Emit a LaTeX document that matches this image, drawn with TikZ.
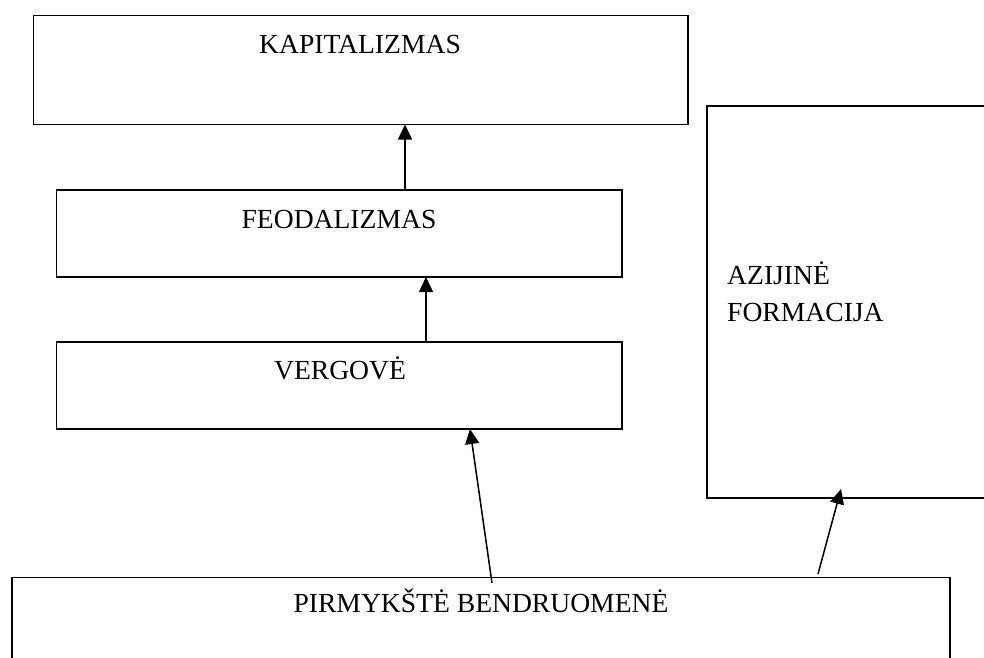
\documentclass[tikz,border=0pt]{standalone}
\usepackage{fontspec}
\setmainfont{Liberation Serif}
\usetikzlibrary{arrows.meta}
\begin{document}
\begin{tikzpicture}[x=1pt,y=-1pt,
 box/.style={draw,line width=1.5pt,inner sep=0pt,outer sep=0pt},
 lbl/.style={anchor=base,inner sep=0pt,font=\fontsize{27.6}{37}\selectfont},
 lblw/.style={anchor=base west,inner sep=0pt,font=\fontsize{27.6}{37}\selectfont},
 arr/.style={line width=1.5pt,-{Triangle[length=15pt,width=14pt]}}]
\useasboundingbox (0,0) rectangle (984,657);
\clip (0,0) rectangle (984,657);
\node[box,minimum width=654.5pt,minimum height=109pt] (kap) at (360.75,70) {};
\node[box,minimum width=565.5pt,minimum height=87pt] (feo) at (339.25,233.5) {};
\node[box,minimum width=565.5pt,minimum height=87pt] (ver) at (339.25,385.5) {};
\node[box,minimum width=303pt,minimum height=392pt] (azi) at (858.5,302) {};
\node[box,minimum width=938pt,minimum height=142.5pt] (pir) at (481,648.75) {};
\node[lbl] (kapt) at (360,53) {KAPITALIZMAS};
\node[lbl] (feot) at (339,228) {FEODALIZMAS};
\node[lbl] (vert) at (340,379) {VERGOVĖ};
\node[lblw] (azit1) at (727,284) {AZIJINĖ};
\node[lblw] (azit2) at (727,321) {FORMACIJA};
\node[lbl] (pirt) at (481,612) {PIRMYKŠTĖ BENDRUOMENĖ};
\draw[arr] ([xshift=348.5pt]feo.north west) -- ([xshift=371.5pt]kap.south west);
\draw[arr] ([xshift=369.5pt]ver.north west) -- ([xshift=369.5pt]feo.south west);
\draw[arr] ([xshift=480pt,yshift=-5.5pt]pir.north west) -- ([xshift=413.5pt]ver.south west);
\draw[arr] ([xshift=806pt,yshift=3.5pt]pir.north west) -- ([xshift=134pt,yshift=9pt]azi.south west);
\end{tikzpicture}
\end{document}
